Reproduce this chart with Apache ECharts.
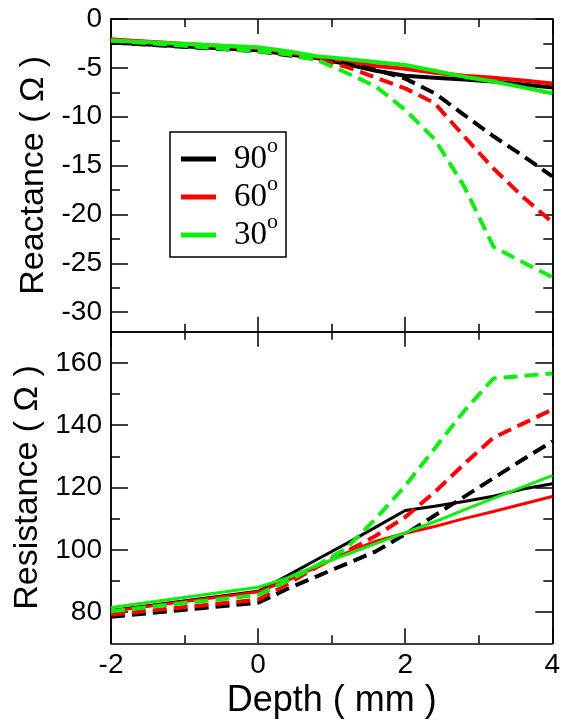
<!DOCTYPE html>
<html>
<head>
<meta charset="utf-8">
<script src="https://cdn.jsdelivr.net/npm/echarts@6/dist/echarts.min.js"></script>
<style>html,body{margin:0;padding:0;background:#fff}#c{width:568px;height:728px}</style>
</head>
<body>
<div id="c"></div>
<script>
// ---- data ----
const depth = [-2, 0, 0.4, 0.8, 1.2, 1.6, 2.0, 2.4, 2.8, 3.2, 3.6, 4.0];
const angles = ['90', '60', '30'];

// Reactance (top panel)
const react90Solid = [-2.4, -3.2, -3.6, -4.0, -4.6, -5.3, -5.8, -6.0, -6.2, -6.4, -6.7, -7.0];
const react60Solid = [-2.1, -3.0, -3.4, -3.9, -4.3, -4.8, -5.1, -5.5, -5.8, -6.0, -6.3, -6.6];
const react30Solid = [-2.2, -2.9, -3.3, -3.8, -4.1, -4.4, -4.7, -5.3, -5.9, -6.4, -7.0, -7.6];
const react90Dash = [-2.4, -3.3, -3.7, -4.1, -4.6, -5.2, -6.1, -7.6, -9.8, -12.0, -14.0, -16.1];
const react60Dash = [-2.1, -3.2, -3.6, -4.1, -4.9, -6.0, -7.1, -8.6, -12.0, -15.3, -18.2, -20.8];
const react30Dash = [-2.2, -3.3, -3.6, -4.2, -5.5, -6.9, -9.3, -12.3, -17.1, -23.3, -24.9, -26.4];

// Resistance (bottom panel)
const resist90Solid = [80.5, 86.7, 91.7, 96.9, 102.0, 107.3, 112.6, 114.0, 115.5, 117.2, 119.5, 121.2];
const resist60Solid = [80.3, 86.5, 90.2, 94.5, 99.0, 102.8, 105.3, 107.5, 110.0, 112.3, 114.7, 117.1];
const resist30Solid = [81.5, 88.0, 91.0, 95.0, 98.5, 102.0, 105.5, 109.0, 112.8, 116.5, 120.2, 123.8];
const resist90Dash = [78.5, 83.0, 87.5, 91.5, 95.5, 99.5, 105.0, 111.0, 117.0, 123.0, 129.0, 134.8];
const resist60Dash = [79.2, 84.0, 89.0, 94.5, 99.5, 104.5, 110.5, 118.5, 127.5, 136.0, 140.5, 145.0];
const resist30Dash = [80.3, 85.5, 90.0, 95.0, 100.5, 110.0, 120.5, 132.5, 144.5, 155.0, 155.8, 156.6];

// tick values
const xTicks = [-2, 0, 2, 4];
const reactMajor = [-30, -25, -20, -15, -10, -5, 0];
const reactMinor = [-27.5, -22.5, -17.5, -12.5, -7.5, -2.5];
const resistMajor = [80, 100, 120, 140, 160];
const resistMinor = [90, 110, 130, 150];

// ---- chart ----
const colors = {'90': '#000000', '60': '#ff0000', '30': '#10ee10'};
const pair = (ys) => depth.map((d, i) => [d, ys[i]]);
const AX = {color: '#000', width: 1.5};
const FONT = 'Liberation Sans';

function xAxisDef(grid, pos, labels) {
  return {
    type: 'value', gridIndex: grid, position: pos, min: -2, max: 4, interval: 2,
    axisLine: {show: true, onZero: false, lineStyle: AX},
    axisTick: {show: true, inside: true, length: 15, lineStyle: AX},
    minorTick: {show: true, splitNumber: 2, length: 8, lineStyle: AX},
    splitLine: {show: false}, minorSplitLine: {show: false},
    axisLabel: {show: labels, color: '#000', fontSize: 28, fontFamily: FONT, margin: 8},
    name: labels ? 'Depth ( mm )' : '', nameLocation: 'middle', nameGap: 40,
    nameTextStyle: {color: '#000', fontSize: 36, fontFamily: FONT}
  };
}
function yAxisDef(grid, pos, min, max, ticks, len, labels, name, gap) {
  return {
    type: 'value', gridIndex: grid, position: pos, min: min, max: max,
    axisLine: {show: true, onZero: false, lineStyle: AX},
    axisTick: {show: true, inside: true, length: len, lineStyle: AX, customValues: ticks},
    splitLine: {show: false},
    axisLabel: labels ? {show: true, customValues: ticks, color: '#000', fontSize: 28, fontFamily: FONT, margin: 9} : {show: false},
    name: name || '', nameLocation: 'middle', nameGap: gap || 50, nameRotate: 90,
    nameTextStyle: {color: '#000', fontSize: 34, fontFamily: FONT}
  };
}

const series = [];
function addSeries(name, data, xi, yi, dashed, width, z) {
  series.push({
    type: 'line', name: name, data: data, xAxisIndex: xi, yAxisIndex: yi,
    symbol: 'none', smooth: false, z: z,
    lineStyle: {color: colors[name.slice(0,2)], width: width, type: dashed ? [14, 7] : 'solid'},
    itemStyle: {color: colors[name.slice(0,2)]}
  });
}
// top panel
addSeries('90', pair(react90Solid), 0, 0, false, 4, 2);
addSeries('60', pair(react60Solid), 0, 0, false, 4, 3);
addSeries('90 d', pair(react90Dash), 0, 0, true, 4, 4);
addSeries('60 d', pair(react60Dash), 0, 0, true, 4, 5);
addSeries('30 d', pair(react30Dash), 0, 0, true, 4, 6);
addSeries('30', pair(react30Solid), 0, 0, false, 4, 7);
// bottom panel
addSeries('90', pair(resist90Solid), 2, 4, false, 3, 2);
addSeries('60', pair(resist60Solid), 2, 4, false, 3, 3);
addSeries('90 d', pair(resist90Dash), 2, 4, true, 4, 4);
addSeries('60 d', pair(resist60Dash), 2, 4, true, 4, 5);
addSeries('30 d', pair(resist30Dash), 2, 4, true, 4, 6);
addSeries('30', pair(resist30Solid), 2, 4, false, 3, 7);

const chart = echarts.init(document.getElementById('c'), null, {renderer: 'canvas'});
chart.setOption({
  animation: false,
  backgroundColor: '#fff',
  grid: [
    {left: 111, top: 19, width: 441.3, height: 312.7},
    {left: 111, top: 331.7, width: 441.3, height: 311.6}
  ],
  xAxis: [
    xAxisDef(0, 'bottom', false),
    xAxisDef(0, 'top', false),
    xAxisDef(1, 'bottom', true),
    xAxisDef(1, 'top', false)
  ],
  yAxis: [
    yAxisDef(0, 'left', -32, 0, reactMajor, 17, true, 'Reactance ( Ω )', 52),
    yAxisDef(0, 'left', -32, 0, reactMinor, 9, false),
    yAxisDef(0, 'right', -32, 0, reactMajor, 17, false),
    yAxisDef(0, 'right', -32, 0, reactMinor, 9, false),
    yAxisDef(1, 'left', 70, 170, resistMajor, 17, true, 'Resistance ( Ω )', 52),
    yAxisDef(1, 'left', 70, 170, resistMinor, 9, false),
    yAxisDef(1, 'right', 70, 170, resistMajor, 17, false),
    yAxisDef(1, 'right', 70, 170, resistMinor, 9, false)
  ],
  legend: {
    data: angles, orient: 'vertical', left: 170, top: 132,
    padding: [3, 8, 4, 11], itemGap: -4,
    itemWidth: 35, itemHeight: 5, icon: 'rect',
    backgroundColor: '#fff', borderColor: '#000', borderWidth: 1.5, borderRadius: 0,
    selectedMode: false,
    formatter: (n) => '{n|' + n + '}{s|o}',
    textStyle: {
      padding: [0, 0, 0, 13],
      rich: {
        n: {fontSize: 33, fontFamily: 'Liberation Serif', color: '#000', lineHeight: 36},
        s: {fontSize: 22, fontFamily: 'Liberation Serif', color: '#000', lineHeight: 12, verticalAlign: 'bottom', padding: [0, 0, 20, 0]}
      }
    }
  },
  series: series
});
</script>
</body>
</html>
